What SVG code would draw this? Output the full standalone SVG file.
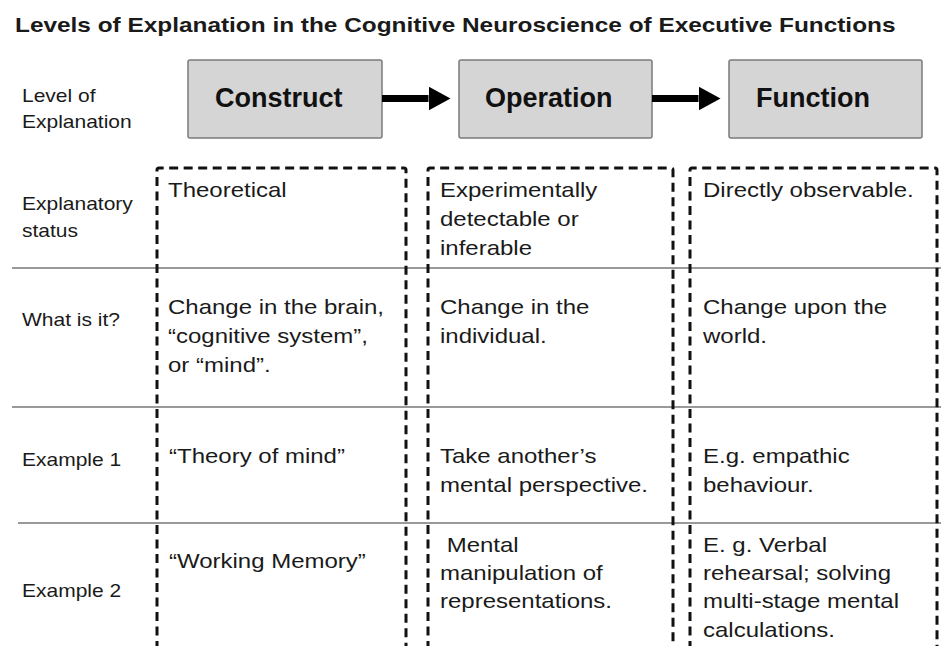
<svg xmlns="http://www.w3.org/2000/svg" width="941" height="646" viewBox="0 0 941 646">
<style>
text{font-family:"Liberation Sans",Arial,sans-serif;fill:#1a1a1a}
.title{font-size:20.5px;font-weight:bold}
.lab{font-size:17.5px}
.cell{font-size:20px}
.box{fill:#d5d5d5;stroke:#7a7a7a;stroke-width:1.5}
.btxt{font-size:27px;font-weight:bold;fill:#111}
.col{fill:none;stroke:#111;stroke-width:3;stroke-dasharray:9 5.5}
.hr{stroke:#777;stroke-width:1.6}
.arr{stroke:#000;stroke-width:7;fill:none}
</style>
<defs>
<marker id="ah" markerUnits="userSpaceOnUse" markerWidth="22" markerHeight="24" refX="0" refY="12" orient="auto">
<path d="M0,0 L22,12 L0,24 Z" fill="#000"/>
</marker>
</defs>
<rect width="941" height="646" fill="#fff"/>
<text class="title" transform="translate(15,32) scale(1.19,1)">Levels of Explanation in the Cognitive Neuroscience of Executive Functions</text>

<g id="rowlabels">
<text class="lab" transform="translate(22,0) scale(1.2,1)"><tspan x="0" y="102">Level of</tspan><tspan x="0" y="128">Explanation</tspan></text>
<text class="lab" transform="translate(22,0) scale(1.2,1)"><tspan x="0" y="210">Explanatory</tspan><tspan x="0" y="237">status</tspan></text>
<text class="lab" transform="translate(22,326) scale(1.2,1)">What is it?</text>
<text class="lab" transform="translate(22,466) scale(1.2,1)">Example 1</text>
<text class="lab" transform="translate(22,597) scale(1.2,1)">Example 2</text>
</g>

<g id="gridlines">
<line class="hr" x1="12" y1="268" x2="941" y2="268"/>
<line class="hr" x1="12" y1="407" x2="941" y2="407"/>
<line class="hr" x1="18" y1="523" x2="941" y2="523"/>
<path class="col" d="M157,650 V170 Q157,168 159,168 H404 Q406,168 406,170 V650"/>
<path class="col" d="M428,650 V170 Q428,168 430,168 H671 Q673,168 673,170 V650"/>
<path class="col" d="M690,650 V170 Q690,168 692,168 H935 Q937,168 937,170 V650"/>
</g>

<g id="construct">
<rect class="box" x="188" y="60" width="194" height="78" rx="2"/>
<text class="btxt" x="215" y="107">Construct</text>
</g>
<g id="operation">
<rect class="box" x="459" y="60" width="193" height="78" rx="2"/>
<text class="btxt" x="485" y="107">Operation</text>
</g>
<g id="function">
<rect class="box" x="729" y="60" width="193" height="78" rx="2"/>
<text class="btxt" x="756" y="107">Function</text>
</g>

<g id="connectors">
<line class="arr" x1="382" y1="98.5" x2="428.5" y2="98.5" marker-end="url(#ah)"/>
<line class="arr" x1="652" y1="98.5" x2="698.5" y2="98.5" marker-end="url(#ah)"/>
</g>

<g id="construct-cells">
<text class="cell" transform="translate(168,197) scale(1.2,1)">Theoretical</text>
<text class="cell" transform="translate(168,0) scale(1.2,1)"><tspan x="0" y="314">Change in the brain,</tspan><tspan x="0" y="343">“cognitive system”,</tspan><tspan x="0" y="372">or “mind”.</tspan></text>
<text class="cell" transform="translate(169,463) scale(1.2,1)">“Theory of mind”</text>
<text class="cell" transform="translate(169,568) scale(1.2,1)">“Working Memory”</text>
</g>
<g id="operation-cells">
<text class="cell" transform="translate(440,0) scale(1.2,1)"><tspan x="0" y="197">Experimentally</tspan><tspan x="0" y="226">detectable or</tspan><tspan x="0" y="255">inferable</tspan></text>
<text class="cell" transform="translate(440,0) scale(1.2,1)"><tspan x="0" y="314">Change in the</tspan><tspan x="0" y="343">individual.</tspan></text>
<text class="cell" transform="translate(440,0) scale(1.2,1)"><tspan x="0" y="463">Take another’s</tspan><tspan x="0" y="492">mental perspective.</tspan></text>
<text class="cell" transform="translate(440,0) scale(1.2,1)" xml:space="preserve"><tspan x="0" y="552"> Mental</tspan><tspan x="0" y="580">manipulation of</tspan><tspan x="0" y="608">representations.</tspan></text>
</g>
<g id="function-cells">
<text class="cell" transform="translate(703,197) scale(1.2,1)">Directly observable.</text>
<text class="cell" transform="translate(703,0) scale(1.2,1)"><tspan x="0" y="314">Change upon the</tspan><tspan x="0" y="343">world.</tspan></text>
<text class="cell" transform="translate(703,0) scale(1.2,1)"><tspan x="0" y="463">E.g. empathic</tspan><tspan x="0" y="492">behaviour.</tspan></text>
<text class="cell" transform="translate(703,0) scale(1.2,1)"><tspan x="0" y="552">E. g. Verbal</tspan><tspan x="0" y="580">rehearsal; solving</tspan><tspan x="0" y="608">multi-stage mental</tspan><tspan x="0" y="637">calculations.</tspan></text>
</g>
</svg>
